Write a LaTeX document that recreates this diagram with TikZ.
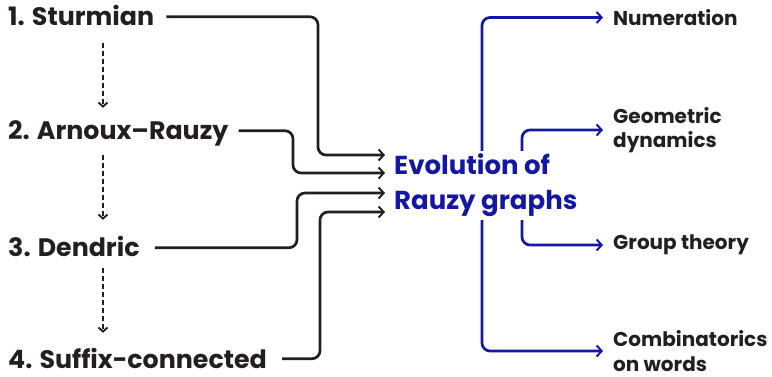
\documentclass[tikz,border=0pt]{standalone}
\usepackage{fontspec}
\setmainfont{Poppins}
\usetikzlibrary{arrows.meta}
\definecolor{ink}{RGB}{35,31,32}
\definecolor{navy}{RGB}{20,24,160}
\tikzset{
  lbl/.style={anchor=base west, inner sep=0pt, text height=18.5pt, text depth=0pt,
    font=\fontsize{25.3}{30}\selectfont\bfseries, text=ink},
  rlbl/.style={anchor=west, inner sep=0pt, align=left,
    font=\fontsize{20}{24.5}\selectfont\bfseries, text=ink},
  mid/.style={anchor=west, inner xsep=0pt, inner ysep=3pt, align=left,
    font=\fontsize{26}{35}\selectfont\bfseries, text=navy},
  conn/.style={draw=ink, line width=2.7pt, rounded corners=8pt,
    -{Straight Barb[length=5pt,width=11pt,line width=2pt]}},
  bconn/.style={draw=navy, line width=2.7pt, rounded corners=8pt,
    -{Straight Barb[length=5pt,width=11pt,line width=2pt]}},
  dasharr/.style={draw=ink, line width=2.8pt, dash pattern=on 5pt off 3pt,
    -{Straight Barb[length=4pt,width=9pt,line width=1.9pt]}}
}
\begin{document}
\begin{tikzpicture}[x=1pt,y=-1pt]
\useasboundingbox (0,0) rectangle (772,377);
% left labels
\node[lbl] (s1) at (8,26) {1. Sturmian};
\node[lbl] (s2) at (8,140) {2. Arnoux–Rauzy};
\node[lbl] (s3) at (8,257) {3. Dendric};
\node[lbl] (s4) at (8,368) {4. Suffix-connected};
% centre
\node[mid] (ev) at (394,185.5) {Evolution of\\Rauzy graphs};
% right labels
\node[rlbl] (num) at (613,17.5) {Numeration};
\node[rlbl] (geo) at (613,130) {Geometric\\dynamics};
\node[rlbl] (grp) at (613,245) {Group theory};
\node[rlbl] (cmb) at (613,351) {Combinatorics\\on words};
% arrow ends at centre
\coordinate (e1) at (385,155);
\coordinate (e2) at (385,173);
\coordinate (e3) at (385,193);
\coordinate (e4) at (385,212);
% dashed arrows
\draw[dasharr] ([yshift=-17pt]103,0 |- s1.south) -- ([yshift=13.5pt]103,0 |- s2.north);
\draw[dasharr] ([yshift=-15pt]103,0 |- s2.south) -- ([yshift=18.5pt]103,0 |- s3.north);
\draw[dasharr] ([yshift=-11pt]103,0 |- s3.south) -- ([yshift=16.5pt]103,0 |- s4.north);
% black connectors
\draw[conn] ([xshift=12pt]s1.east) -- (318,0 |- s1.east) -- (318,0 |- e1) -- (e1);
\draw[conn] ([xshift=10pt]s2.east) -- (293,0 |- s2.east) -- (293,0 |- e2) -- (e2);
\draw[conn] ([xshift=15pt]s3.east) -- (297,0 |- s3.east) -- (297,0 |- e3) -- (e3);
\draw[conn] ([xshift=15pt]s4.east) -- (320,0 |- s4.east) -- (320,0 |- e4) -- (e4);
% blue connectors
\draw[bconn] (482,0 |- ev.north) |- ([xshift=-10pt]num.west);
\draw[bconn] (522,0 |- ev.north) |- ([xshift=-10pt]geo.west);
\draw[bconn] (522,0 |- ev.south) |- ([xshift=-10pt]grp.west);
\draw[bconn] (482,0 |- ev.south) |- ([xshift=-10pt]cmb.west);
\end{tikzpicture}
\end{document}
